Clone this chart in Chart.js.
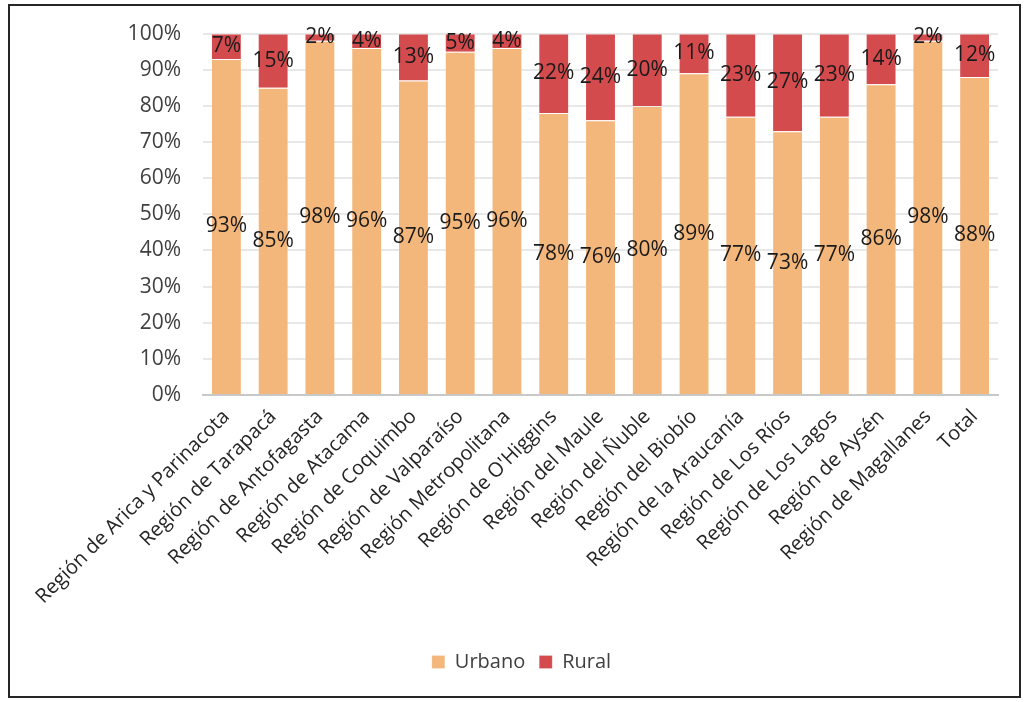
<!DOCTYPE html>
<html>
<head>
<meta charset="utf-8">
<script src="https://cdn.jsdelivr.net/npm/chart.js@4/dist/chart.umd.min.js"></script>
<style>
  html, body { margin: 0; padding: 0; background: #fff; }
  #frame { position: absolute; left: 8px; top: 4px; width: 1013px; height: 694px; border: 2px solid #262626; box-sizing: border-box; }
  #wrap { position: absolute; left: 0; top: -7px; width: 1009px; height: 697px; }
</style>
</head>
<body>
<div id="frame"><div id="wrap"><canvas id="chart"></canvas></div></div>
<script>
const regiones = [
  'Región de Arica y Parinacota', 'Región de Tarapacá', 'Región de Antofagasta',
  'Región de Atacama', 'Región de Coquimbo', 'Región de Valparaíso',
  'Región Metropolitana', "Región de O'Higgins", 'Región del Maule',
  'Región del Ñuble', 'Región del Biobío', 'Región de la Araucanía',
  'Región de Los Ríos', 'Región de Los Lagos', 'Región de Aysén',
  'Región de Magallanes', 'Total'
];
const urbano = [93, 85, 98, 96, 87, 95, 96, 78, 76, 80, 89, 77, 73, 77, 86, 98, 88];
const rural  = [7, 15, 2, 4, 13, 5, 4, 22, 24, 20, 11, 23, 27, 23, 14, 2, 12];

const FONT = '"Open Sans", "Noto Sans", sans-serif';

// etiquetas centradas en cada segmento (como Excel)
const etiquetas = {
  id: 'etiquetas',
  afterDatasetsDraw(chart) {
    const ctx = chart.ctx;
    ctx.save();
    ctx.font = '21px ' + FONT;
    ctx.fillStyle = '#1a1a1a';
    ctx.textAlign = 'center';
    ctx.textBaseline = 'middle';
    chart.data.datasets.forEach((ds, i) => {
      chart.getDatasetMeta(i).data.forEach((bar, j) => {
        const y = (bar.y + bar.base) / 2;
        ctx.fillText(ds.data[j] + '%', bar.x, y);
      });
    });
    ctx.restore();
  }
};

new Chart(document.getElementById('chart'), {
  type: 'bar',
  data: {
    labels: regiones,
    datasets: [
      { label: 'Urbano', data: urbano, backgroundColor: '#F4B77B', borderColor: 'rgba(255,255,255,0.2)', borderWidth: 1 },
      { label: 'Rural', data: rural, backgroundColor: '#D44B4E', borderColor: 'rgba(255,255,255,0.2)', borderWidth: 1 }
    ]
  },
  options: {
    responsive: true,
    maintainAspectRatio: false,
    animation: false,
    layout: { padding: { top: 10, right: 21, bottom: 14, left: 35 } },
    datasets: { bar: { categoryPercentage: 1, barPercentage: 0.66 } },
    plugins: {
      legend: {
        position: 'bottom',
        labels: { font: { family: FONT, size: 20 }, color: '#404040', boxWidth: 13, boxHeight: 13, padding: 14 }
      },
      tooltip: { enabled: false }
    },
    scales: {
      x: {
        stacked: true,
        grid: { display: false },
        border: { color: '#C8C8C8', width: 2 },
        ticks: { font: { family: FONT, size: 20 }, color: '#262626', maxRotation: 45, minRotation: 45, autoSkip: false, padding: 2 },
        afterFit(s) { s.height = 243; }
      },
      y: {
        stacked: true,
        min: 0, max: 100,
        grid: { color: '#E8E8E8', lineWidth: 2, drawTicks: false },
        border: { display: false },
        ticks: { stepSize: 10, font: { family: FONT, size: 21 }, color: '#404040', padding: 22, callback: v => v + '%' },
        afterFit(s) { s.width = 158; }
      }
    }
  },
  plugins: [etiquetas]
});
</script>
</body>
</html>
